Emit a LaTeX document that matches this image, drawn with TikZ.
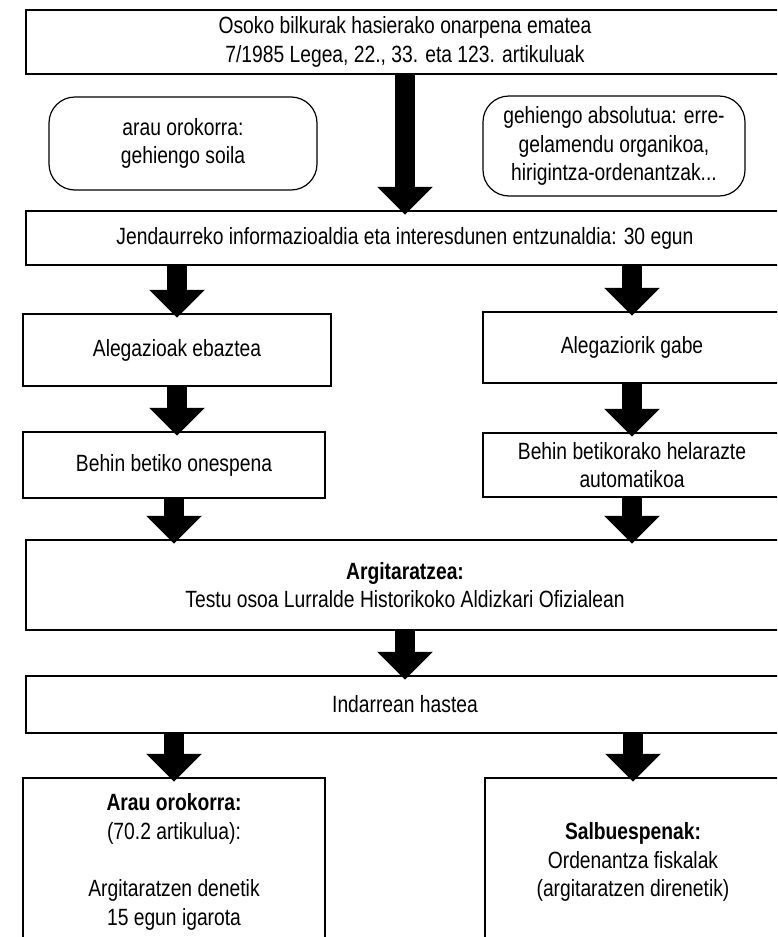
\documentclass[tikz,border=0pt]{standalone}
\usepackage{fontspec}
\setmainfont{Liberation Sans}[FakeStretch=0.82]
\usetikzlibrary{arrows.meta}

\tikzset{
  box/.style={draw=black,line width=2.5pt,fill=white,align=center,inner sep=0pt,
    font=\fontsize{23.5}{28.5}\selectfont},
  softbox/.style={draw=black,line width=1.2pt,rounded corners=26pt,fill=white,align=center,
    inner sep=0pt,font=\fontsize{23.5}{28.5}\selectfont},
  down/.style={line width=20pt,-{Triangle[width=54pt,length=28pt]},shorten >=-5pt},
}

\begin{document}
\begin{tikzpicture}[x=1pt,y=-1pt]

\useasboundingbox (0,0) rectangle (777,937);
\clip (0,0) rectangle (777,937);

\node[box,minimum width=758pt,minimum height=64pt] at (405,42) (osoko)
  {Osoko bilkurak hasierako onarpena ematea\\7/1985 Legea, 22., 33. eta 123. artikuluak};

\node[softbox,minimum width=268pt,minimum height=93pt] at (183,143.5) (arau)
  {arau orokorra:\\gehiengo soila};
\node[softbox,minimum width=262pt,minimum height=100pt] at (614,146) (gehiengo)
  {gehiengo absolutua: erre-\\gelamendu organikoa,\\hirigintza-ordenantzak...};

\node[box,minimum width=758pt,minimum height=54pt] at (405,238) (jend)
  {Jendaurreko informazioaldia eta interesdunen entzunaldia: 30 egun};

% bi adarrak
\node[box,minimum width=308pt,minimum height=72pt] at (177,350) (alegL) {Alegazioak ebaztea};
\node[box,minimum width=298pt,minimum height=71pt] at (632,347.5) (alegR) {Alegaziorik gabe};

\node[box,minimum width=302pt,minimum height=66pt] at (174,465) (behinL) {Behin betiko onespena};
\node[box,minimum width=298pt,minimum height=64pt] at (632,465) (behinR)
  {Behin betikorako helarazte\\automatikoa};

\node[box,minimum width=758pt,minimum height=90pt] at (405,585) (argit)
  {\textbf{Argitaratzea:}\\Testu osoa Lurralde Historikoko Aldizkari Ofizialean};

\node[box,minimum width=758pt,minimum height=57pt] at (405,704.5) (indar) {Indarrean hastea};

\node[box,minimum width=302pt,minimum height=168pt] at (174,862) (orokor)
  {\textbf{Arau orokorra:}\\(70.2 artikulua):\\[29pt]Argitaratzen denetik\\15 egun igarota};
\node[box,minimum width=296pt,minimum height=168pt] at (633,862) (salbu)
  {\textbf{Salbuespenak:}\\Ordenantza fiskalak\\(argitaratzen direnetik)};

% gezi lodiak
\draw[down] (osoko.south) -- (jend.north);

\draw[down] (jend.south -| alegL.north) -- (alegL.north);
\draw[down] (jend.south -| alegR.north) -- (alegR.north);

\draw[down] (alegL.south) -- (behinL.north -| alegL.south);
\draw[down] (alegR.south) -- (behinR.north);

\draw[down] (behinL.south) -- (behinL.south |- argit.north);
\draw[down] (behinR.south) -- (behinR.south |- argit.north);

\draw[down] (argit.south) -- (indar.north);

\draw[down] (indar.south -| orokor.north) -- (orokor.north);
\draw[down] (indar.south -| salbu.north) -- (salbu.north);

\end{tikzpicture}
\end{document}
